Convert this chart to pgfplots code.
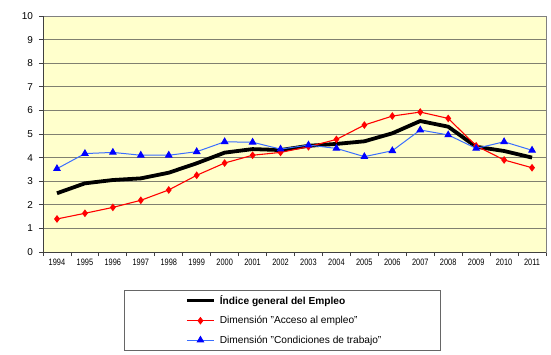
\documentclass[border=0pt]{standalone}
\usepackage{pgfplots}
\pgfplotsset{compat=1.18}
\usepackage{fontspec}
\setmainfont{Liberation Sans}
\definecolor{bgyel}{HTML}{FFFFCC}
\definecolor{gridc}{HTML}{808070}
\definecolor{lineblue}{HTML}{3A6EFF}
\pgfplotstableread{
x idx acc cond
0 2.49 1.40 3.53
1 2.91 1.64 4.17
2 3.05 1.89 4.22
3 3.12 2.19 4.10
4 3.36 2.63 4.10
5 3.76 3.25 4.25
6 4.21 3.77 4.67
7 4.36 4.10 4.65
8 4.32 4.22 4.36
9 4.50 4.46 4.53
10 4.58 4.77 4.39
11 4.69 5.38 4.04
12 5.03 5.76 4.29
13 5.55 5.93 5.17
14 5.31 5.66 4.96
15 4.46 4.50 4.39
16 4.28 3.90 4.67
17 4.00 3.57 4.31
}\datatab
\begin{document}
\begin{tikzpicture}[x=1bp,y=1bp]
\path[use as bounding box] (0,0) rectangle (551,354);
\draw[black!60, line width=0.8bp] (124,4) rectangle (440,64);
\begin{axis}[
  scale only axis,
  width=503bp, height=236bp,
  at={(43bp,102bp)}, anchor=south west,
  xmin=-0.5, xmax=17.5, ymin=0, ymax=10,
  axis background/.style={fill=bgyel},
  axis line style={draw=gray, line width=0.8bp},
  xtick={0,...,17},
  xticklabel style={font=\fontsize{9.3}{9}\selectfont, yshift=0.5bp},
  xticklabel={\pgfmathparse{int(1994+\tick)}\scalebox{0.8}[1]{\pgfmathresult}},
  major x tick style={draw=none},
  minor xtick={-0.5,0.5,...,17.5},
  minor x tick style={draw=black!75, line width=0.8bp},
  minor tick length=4bp,
  ytick={0,...,10},
  yticklabel style={font=\fontsize{10}{10}\selectfont, xshift=-2.5bp},
  /pgf/number format/assume math mode=true,
  major tick length=4bp,
  tick align=outside,
  tick pos=left,
  major y tick style={draw=black!75, line width=0.8bp},
  ymajorgrids,
  grid style={draw=gridc, line width=0.9bp},
  legend style={draw=none, fill=none, at={(axis description cs:0.282,-0.178)}, anchor=north west,
    inner sep=0pt, font=\fontsize{10.2}{12}\selectfont, row sep=8.5bp,
    nodes={inner ysep=1bp, inner xsep=4bp}},
  legend cell align=left,
  legend image code/.code={\draw[mark repeat=2,mark phase=2,#1] plot coordinates {(0bp,0bp) (13.5bp,0bp) (27bp,0bp)};},
]
\draw[black!75, line width=0.8bp] (rel axis cs:0,0) -- (rel axis cs:0,1);
\draw[black!75, line width=0.8bp] (rel axis cs:0,0) -- (rel axis cs:1,0);
\addplot[black, line width=3.8bp, line join=round] table[x=x, y=idx] {\datatab};
\addlegendentry{\textbf{Índice general del Empleo}}
\addplot[red, line width=1.1bp, mark=diamond*, mark size=3bp, mark options={fill=red, draw=red}] table[x=x, y=acc] {\datatab};
\addlegendentry{Dimensión "Acceso al empleo"}
\addplot[lineblue, line width=1bp, mark=triangle*, mark size=3.6bp, mark options={fill=blue, draw=blue}] table[x=x, y=cond] {\datatab};
\addlegendentry{Dimensión "Condiciones de trabajo"}
\end{axis}
\end{tikzpicture}
\end{document}
